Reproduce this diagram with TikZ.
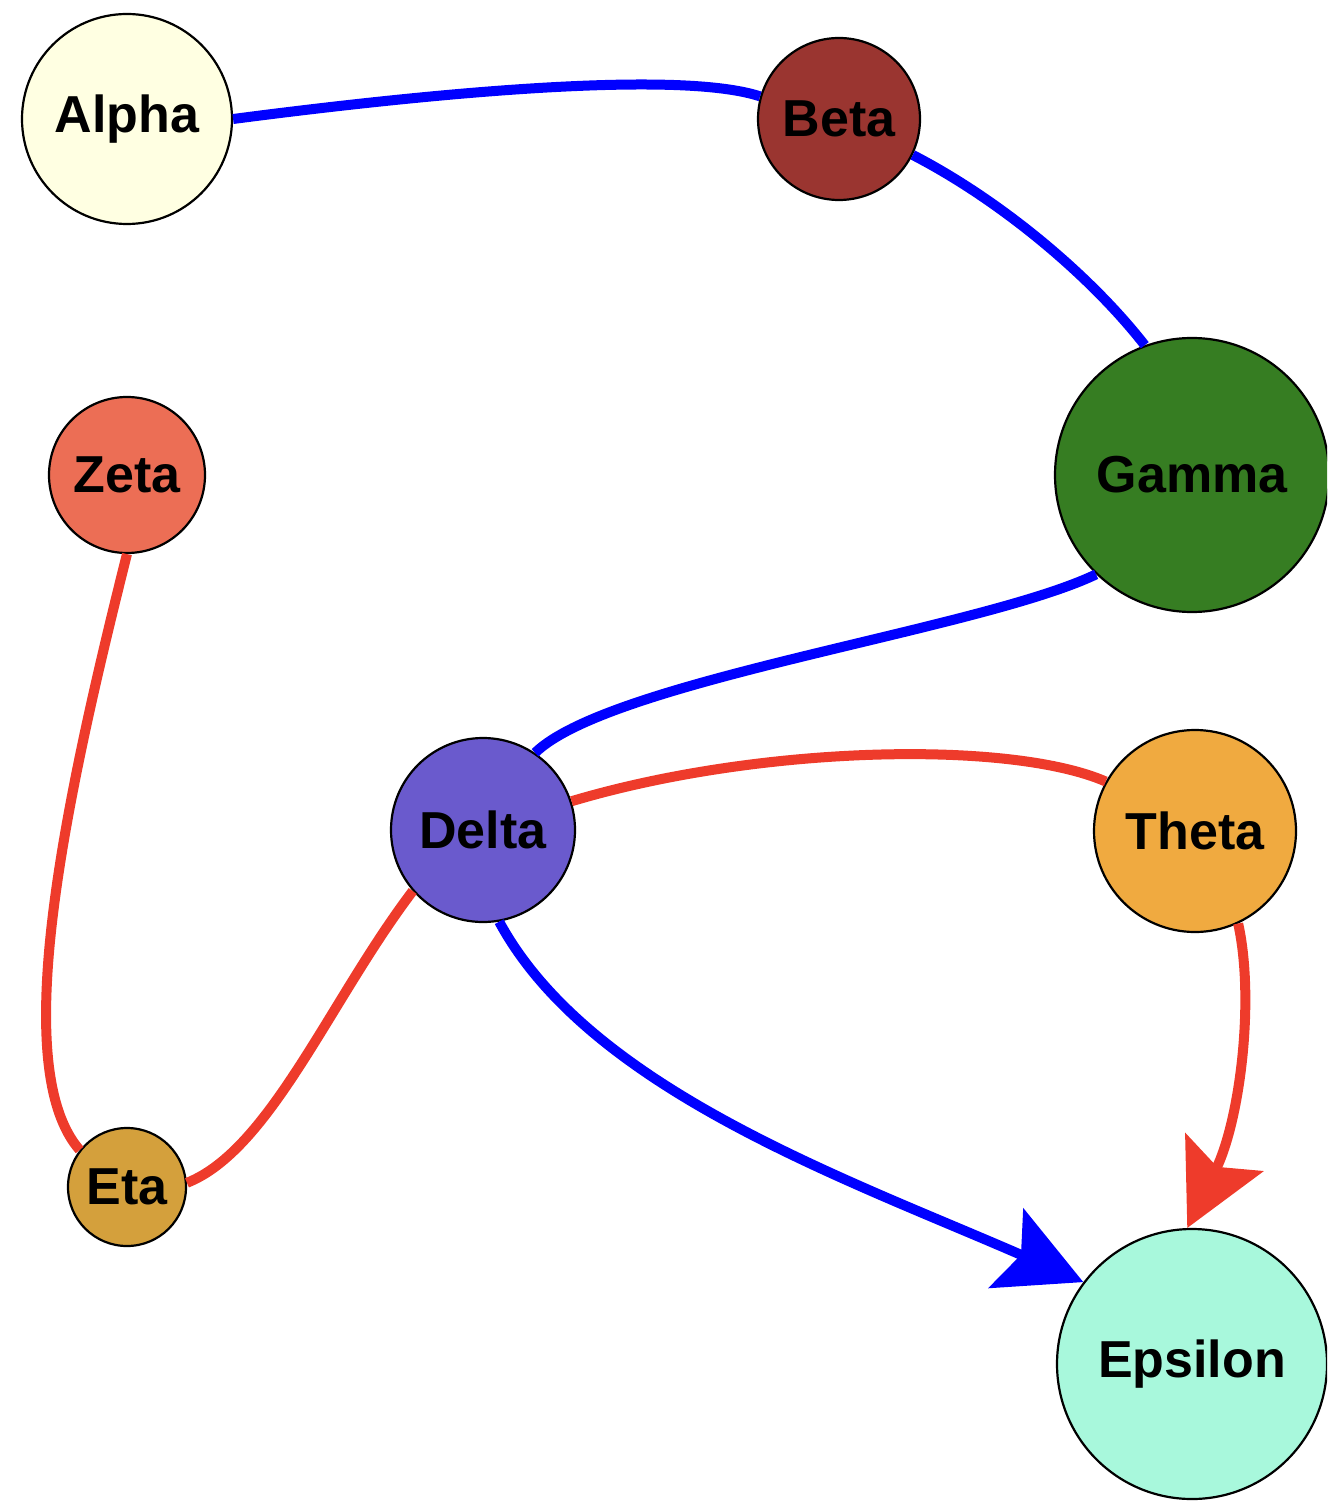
\documentclass[tikz,border=0pt]{standalone}
\usepackage{fontspec}
\setmainfont{Liberation Sans}
\usetikzlibrary{arrows.meta}
\definecolor{cAlpha}{HTML}{FFFFE2}
\definecolor{cBeta}{HTML}{9A3530}
\definecolor{cGamma}{HTML}{367D22}
\definecolor{cZeta}{HTML}{EC6E55}
\definecolor{cDelta}{HTML}{6A5ACD}
\definecolor{cTheta}{HTML}{F0AA40}
\definecolor{cEta}{HTML}{D4A03C}
\definecolor{cEps}{HTML}{A8F8DC}
\definecolor{eblue}{HTML}{0000FF}
\definecolor{ered}{HTML}{EE3B2B}
\tikzset{
  vtx/.style={circle, draw=black, line width=1.1pt, inner sep=0pt,
    font=\fontsize{26}{30}\selectfont\bfseries, text=black},
  bedge/.style={draw=eblue, line width=5pt},
  redge/.style={draw=ered, line width=5pt},
  bigtip/.style={-{Stealth[length=42pt,width=43pt,inset=8pt]}}
}
\begin{document}
\begin{tikzpicture}[x=0.5pt,y=-0.5pt]
\useasboundingbox (0,0) rectangle (1327,1502);
\clip (0,0) rectangle (1327,1502);
\node[vtx, fill=cAlpha, minimum size=105pt] (alpha) at (127,119) {Alpha};
\node[vtx, fill=cBeta, minimum size=81pt] (beta) at (839,119) {Beta};
\node[vtx, fill=cGamma, minimum size=137pt] (gamma) at (1192,475) {Gamma};
\node[vtx, fill=cZeta, minimum size=78pt] (zeta) at (127,475) {Zeta};
\node[vtx, fill=cDelta, minimum size=92pt] (delta) at (483,830) {Delta};
\node[vtx, fill=cTheta, minimum size=101pt] (theta) at (1195,831) {Theta};
\node[vtx, fill=cEta, minimum size=59pt] (eta) at (127,1187) {Eta};
\node[vtx, fill=cEps, minimum size=135pt] (eps) at (1192,1364) {Epsilon};

\draw[bedge] (alpha.0) .. controls (440,92) and (680,70) .. (beta.164);
\draw[bedge] (beta.-26) .. controls (1000,200) and (1090,275) .. (gamma.110);
\draw[bedge] (gamma.226) .. controls (980,630) and (610,680) .. (delta.56);
\draw[redge] (delta.18) .. controls (760,745) and (1010,740) .. (theta.151);
\draw[bedge, bigtip] (delta.-80) .. controls (590,1090) and (850,1180) .. (eps.143);
\draw[redge, bigtip] (theta.-65) .. controls (1255,1000) and (1240,1120) .. (eps.92);
\draw[redge] (zeta.-90) .. controls (60,820) and (10,1070) .. (eta.142);
\draw[redge] (delta.221) .. controls (330,1000) and (270,1150) .. (eta.4);
\end{tikzpicture}
\end{document}
